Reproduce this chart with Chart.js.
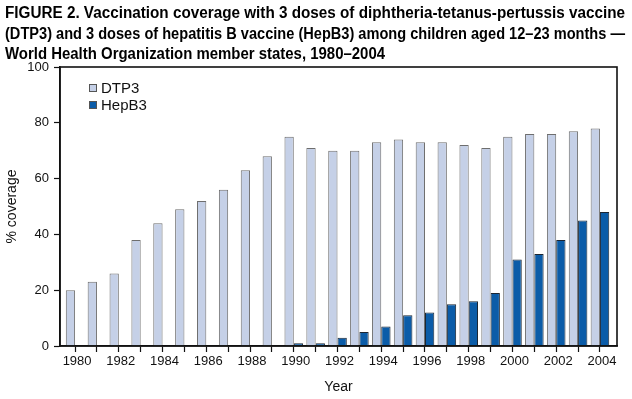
<!DOCTYPE html>
<html>
<head>
<meta charset="utf-8">
<script src="https://cdn.jsdelivr.net/npm/chart.js@4"></script>
<style>
  html, body { margin: 0; padding: 0; background: #fff; }
  #wrap { position: relative; width: 632px; height: 399px; }
  #title {
    position: absolute; left: 5px; top: 3px;
    font-family: 'Liberation Sans', Arial, sans-serif;
    font-weight: bold; font-size: 16px; line-height: 20.5px; color: #000;
  }
  #title div { white-space: nowrap; transform-origin: 0 0; width: max-content; }
  canvas { position: absolute; left: 0; top: 0; }
</style>
</head>
<body>
<div id="wrap">
  <canvas id="chart" width="632" height="399"></canvas>
  <div id="title">
    <div data-w="620">FIGURE 2. Vaccination coverage with 3 doses of diphtheria-tetanus-pertussis vaccine</div>
    <div data-w="620">(DTP3) and 3 doses of hepatitis B vaccine (HepB3) among children aged 12–23 months —</div>
    <div data-w="380">World Health Organization member states, 1980–2004</div>
  </div>
</div>
<script>
const years = [1980, 1981, 1982, 1983, 1984, 1985, 1986, 1987, 1988, 1989, 1990, 1991, 1992,
               1993, 1994, 1995, 1996, 1997, 1998, 1999, 2000, 2001, 2002, 2003, 2004];
const dtp3 = [20, 23, 26, 38, 44, 49, 52, 56, 63, 68, 75, 71, 70, 70, 73, 74, 73, 73, 72, 71, 75, 76, 76, 77, 78];
const hepb3 = [0, 0, 0, 0, 0, 0, 0, 0, 0, 0, 1, 1, 3, 5, 7, 11, 12, 15, 16, 19, 31, 33, 38, 45, 48];
const yTicks = [0, 20, 40, 60, 80, 100];

// squeeze title lines to the condensed look of the original
document.querySelectorAll('#title div').forEach(d => {
    const w = d.getBoundingClientRect().width;
    d.style.transform = `scaleX(${d.dataset.w / w})`;
});

const tickFont = { family: "'Liberation Sans', Arial, sans-serif", size: 13 };

// box around plot + legend inside the plot
const boxAndLegend = {
    id: 'boxAndLegend',
    afterDraw(chart) {
        const { ctx, chartArea: a } = chart;
        ctx.save();
        ctx.strokeStyle = '#111';
        ctx.lineWidth = 1.6;
        ctx.strokeRect(a.left, a.top, a.right - a.left, a.bottom - a.top);

        ctx.font = "15px 'Liberation Sans', Arial, sans-serif";
        ctx.textBaseline = 'middle';
        chart.data.datasets.forEach((ds, i) => {
            const y = 88 + i * 17;
            ctx.fillStyle = ds.backgroundColor;
            ctx.fillRect(89, y - 4, 8, 8);
            ctx.strokeStyle = '#555';
            ctx.lineWidth = 1;
            ctx.strokeRect(89.5, y - 3.5, 7, 7);
            ctx.fillStyle = '#111';
            ctx.fillText(ds.label, 101, y + 1);
        });
        ctx.restore();
    }
};

new Chart(document.getElementById('chart'), {
    type: 'bar',
    data: {
        datasets: [
            { label: 'DTP3', data: years.map((yr, i) => ({ x: yr, y: dtp3[i] })),
              backgroundColor: '#c5d0e7', borderColor: '#6e6e6e', borderWidth: 1 },
            { label: 'HepB3', data: years.map((yr, i) => ({ x: yr, y: hepb3[i] })),
              backgroundColor: '#0b5ca8', borderColor: '#1c2633', borderWidth: 1 }
        ]
    },
    options: {
        responsive: false,
        animation: false,
        events: [],
        layout: { padding: { top: 67, right: 15, left: 0, bottom: 0 } },
        datasets: { bar: { categoryPercentage: 0.85, barPercentage: 1 } },
        plugins: { legend: { display: false }, tooltip: { enabled: false } },
        scales: {
            x: {
                type: 'linear',
                offset: false,
                min: 1979.31, max: 2004.78,
                afterFit: s => { s.height = 53; },
                afterBuildTicks: s => { s.ticks = years.map(v => ({ value: v })); },
                grid: { drawOnChartArea: false, offset: false, tickLength: 6, color: '#111', tickWidth: 1.2 },
                border: { color: '#111', width: 1.6 },
                ticks: {
                    autoSkip: false, maxRotation: 0, color: '#111', font: tickFont, padding: 2, labelOffset: 2,
                    callback: v => (v % 2 === 0 ? String(v) : '')
                },
                title: { display: true, text: 'Year', color: '#111', font: { family: tickFont.family, size: 14 }, padding: { top: 6, bottom: 3 } }
            },
            y: {
                min: 0, max: 100,
                afterFit: s => { s.width = 60; },
                afterBuildTicks: s => { s.ticks = yTicks.map(v => ({ value: v })); },
                grid: { drawOnChartArea: false, tickLength: 6, color: '#111', tickWidth: 1.2 },
                border: { color: '#111', width: 1.6 },
                ticks: { color: '#111', font: tickFont, padding: 5 },
                title: { display: true, text: '% coverage', color: '#111', font: { family: tickFont.family, size: 14 }, padding: { top: 4, bottom: 4 } }
            }
        }
    },
    plugins: [boxAndLegend]
});
</script>
</body>
</html>
